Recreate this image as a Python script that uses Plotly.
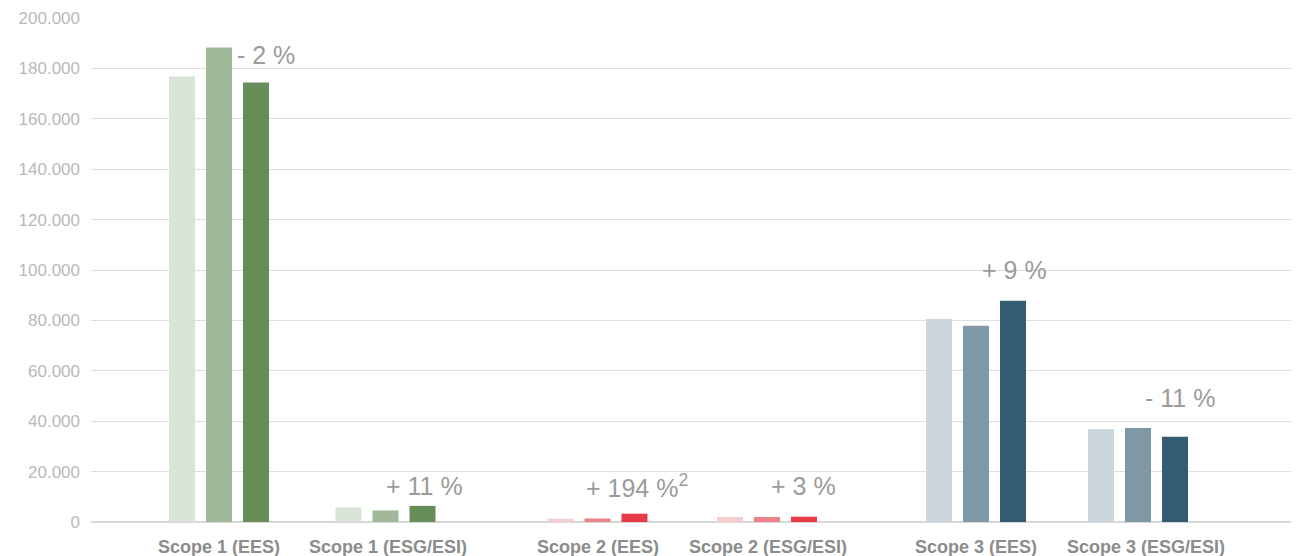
import plotly.graph_objects as go

# ---- data ----
categories = ["Scope 1 (EES)", "Scope 1 (ESG/ESI)", "Scope 2 (EES)",
              "Scope 2 (ESG/ESI)", "Scope 3 (EES)", "Scope 3 (ESG/ESI)"]
series_a = [176800, 5800, 1300, 2000, 80600, 36900]
series_b = [188300, 4600, 1400, 2000, 77900, 37300]
series_c = [174400, 6400, 3300, 2100, 87800, 33800]
change_labels = ["- 2 %", "+ 11 %", "+ 194 %<sup>2</sup>", "+ 3 %", "+ 9 %", "- 11 %"]
change_label_y = [185400, 14300, 14300, 14300, 100100, 49300]
y_ticks = [0, 20000, 40000, 60000, 80000, 100000, 120000, 140000, 160000, 180000, 200000]

# ---- layout constants (x axis units = pixels inside plot area) ----
group_centers = [128, 294.5, 506.5, 676, 885, 1047]
label_centers = [128, 297, 507, 677, 885, 1055]
change_label_left = [146, 295, 495, 680, 891, 1054]

scope_colors = {
    1: ["#d9e3d7", "#a1b999", "#678e59"],
    2: ["#f8cdd1", "#ec8189", "#e63a46"],
    3: ["#ccd7dd", "#7f98a6", "#345c72"],
}
cat_scope = [1, 1, 2, 2, 3, 3]

fig = go.Figure()
for i, vals in enumerate([series_a, series_b, series_c]):
    fig.add_trace(go.Bar(
        x=group_centers, y=vals,
        width=26, offset=-50 + 37 * i,
        marker=dict(color=[scope_colors[s][i] for s in cat_scope], line=dict(width=0)),
        showlegend=False, hoverinfo="y",
    ))

for txt, xl, yv in zip(change_labels, change_label_left, change_label_y):
    fig.add_annotation(x=xl, y=yv, text=txt, showarrow=False, xanchor="left",
                       yanchor="middle", xshift=-2,
                       font=dict(family="Liberation Sans, Arial, sans-serif", size=25, color="#9b9b9b"))

fig.update_layout(
    width=1296, height=556,
    margin=dict(l=91, r=5, t=18, b=34),
    plot_bgcolor="white", paper_bgcolor="white",
    separators=",.",
    barmode="overlay",
    xaxis=dict(range=[0, 1200], tickmode="array", tickvals=label_centers,
               ticktext=["<b>%s</b>" % c for c in categories],
               showgrid=False, zeroline=False, showline=False, ticks="",
               ticklabelstandoff=12, automargin=False,
               tickfont=dict(family="Liberation Sans, Arial, sans-serif", size=18, color="#8c8c8c"),
               fixedrange=True),
    yaxis=dict(range=[0, 200000], tickmode="array", tickvals=y_ticks, tickformat=",d",
               showgrid=True, gridcolor="#dedede", gridwidth=1,
               zeroline=True, zerolinecolor="#d8d8d8", zerolinewidth=1.5,
               showline=False, ticks="", ticklabelstandoff=10, automargin=False,
               tickfont=dict(family="Liberation Sans, Arial, sans-serif", size=17, color="#b9b9b9"),
               fixedrange=True),
)

fig.write_html("out.html")
